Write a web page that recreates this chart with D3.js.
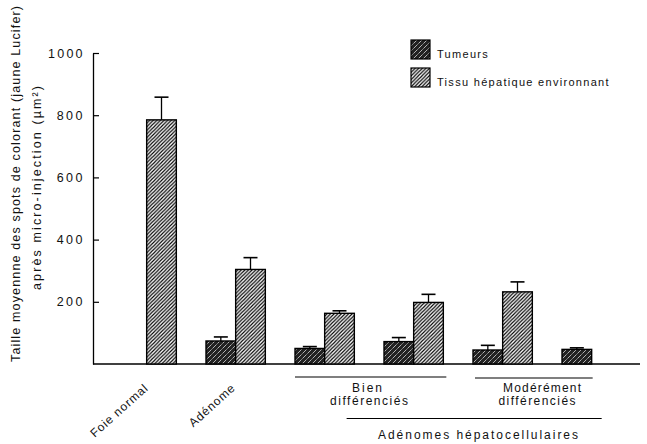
<!DOCTYPE html>
<html><head><meta charset="utf-8">
<script src="https://cdn.jsdelivr.net/npm/d3@7"></script>
<style>
body{margin:0;background:#fff}
svg{display:block}
text{font-family:"Liberation Sans",Arial,Helvetica,sans-serif;fill:#111}
</style>
</head><body>
<svg id="c" width="647" height="444"></svg>
<script>
// ---- data ----
const groups = ["Foie normal","Adénome","Bien 1","Bien 2","Modérément 1","Modérément 2"];
const groupLabels = ["Foie normal","Adénome","","","",""];
const series = ["Tumeurs","Tissu hépatique environnant"];
const tumeurs    = [null, 74, 50, 72, 45, 47];
const tumeursErr = [null, 13,  6, 13, 15,  5];
const tissu      = [785, 304, 163, 198, 232, null];
const tissuErr   = [ 73,  38,   8,  26,  32, null];
const yTicks = [200, 400, 600, 800, 1000];
const subLabels = [["Bien","différenciés"],["Modérément","différenciés"]];
const superLabel = "Adénomes hépatocellulaires";
const yTitle = ["Taille moyennne des spots de colorant (jaune Lucifer)","après micro-injection (µm²)"];

// ---- drawing ----
const svg = d3.select("#c");
const defs = svg.append("defs");
const P = 3.6;
const ph = defs.append("pattern").attr("id","hatch").attr("patternUnits","userSpaceOnUse")
  .attr("width",P).attr("height",P);
ph.append("rect").attr("width",P).attr("height",P).attr("fill","#fff");
ph.append("path").attr("d",`M-1,1 l2,-2 M0,${P} l${P},-${P} M${P-1},${P+1} l2,-2`)
  .attr("stroke","#000").attr("stroke-width",1.15);
const ps = defs.append("pattern").attr("id","stipple").attr("patternUnits","userSpaceOnUse")
  .attr("width",5).attr("height",5);
ps.append("rect").attr("width",5).attr("height",5).attr("fill","#222");
[[0,0],[2,3],[4,1],[1,4],[3,2]].forEach(([a,b],k)=>
  ps.append("rect").attr("x",a).attr("y",b).attr("width",1).attr("height",1)
    .attr("fill","#fff").attr("opacity",k%2?0.4:0.65));

const x0 = d3.scaleBand().domain(groups).range([117, 651]).padding(0);
const x1 = d3.scaleBand().domain([...series, "_gap"]).range([0, x0.bandwidth()]);
const y = d3.scaleLinear().domain([0, 1000]).range([364, 53]);
const bw = x1.bandwidth();

// y axis (ticks pointing inward); labels drawn separately
const ax = svg.append("g").attr("transform","translate(93,0)")
  .call(d3.axisLeft(y).tickValues(yTicks).tickFormat("")
    .tickSizeInner(-6).tickSizeOuter(0));
ax.select(".domain").attr("stroke","#000").attr("stroke-width",1.3);
ax.selectAll(".tick line").attr("stroke","#000").attr("stroke-width",1.2);
svg.append("g").selectAll("text").data(yTicks).join("text")
  .attr("x", 82.5).attr("y", d => y(d)).attr("dy","0.36em")
  .attr("text-anchor","end").attr("font-size",12.5)
  .attr("textLength", d => String(d).length * 8.6).attr("lengthAdjust","spacing")
  .text(d => d3.format("d")(d));

// baseline
svg.append("line").attr("x1",93).attr("x2",640).attr("y1",y(0)).attr("y2",y(0))
  .attr("stroke","#000").attr("stroke-width",1.3);

// y title
svg.append("text").attr("transform",`translate(19.5,${184}) rotate(-90)`)
  .attr("text-anchor","middle").attr("font-size",12.5)
  .attr("textLength",356).attr("lengthAdjust","spacing").text(yTitle[0]);
svg.append("text").attr("transform",`translate(40.5,${188}) rotate(-90)`)
  .attr("text-anchor","middle").attr("font-size",12.5)
  .attr("textLength",204).attr("lengthAdjust","spacing").text(yTitle[1]);

// bars
const data = [
  {key: series[0], vals: tumeurs, errs: tumeursErr, fill: "url(#stipple)"},
  {key: series[1], vals: tissu, errs: tissuErr, fill: "url(#hatch)"}
];
data.forEach(s => {
  groups.forEach((g, i) => {
    const v = s.vals[i];
    if (v == null) return;
    const bx = x0(g) + x1(s.key);
    const cx = bx + bw / 2;
    const e = s.errs[i];
    svg.append("line").attr("x1",cx).attr("x2",cx).attr("y1",y(v)).attr("y2",y(v+e))
      .attr("stroke","#000").attr("stroke-width",1.3);
    svg.append("line").attr("x1",cx-7).attr("x2",cx+7).attr("y1",y(v+e)).attr("y2",y(v+e))
      .attr("stroke","#000").attr("stroke-width",1.6);
    svg.append("rect").attr("x",bx).attr("y",y(v)).attr("width",bw).attr("height",y(0)-y(v))
      .attr("fill",s.fill).attr("stroke","#000").attr("stroke-width",1.4);
  });
});

// group labels (rotated)
groups.forEach((g, i) => {
  if (!groupLabels[i]) return;
  const lx = x0(g) + bw * 1.05 + (i === 1 ? -1 : 1);
  svg.append("text").attr("transform",`translate(${lx},389) rotate(-42)`)
    .attr("text-anchor","end").attr("font-size",12)
    .style("letter-spacing","0.9px").text(groupLabels[i]);
});

// sub-group brackets
const bienL = x0(groups[2]), bienR = x0(groups[3]) + x1(series[1]) + bw + 3;
const modL = x0(groups[4]) + 2, modR = x0(groups[5]) + bw + 1;
svg.append("line").attr("x1",bienL).attr("x2",bienR).attr("y1",377).attr("y2",377)
  .attr("stroke","#000").attr("stroke-width",1.2);
svg.append("line").attr("x1",modL).attr("x2",modR).attr("y1",378).attr("y2",378)
  .attr("stroke","#000").attr("stroke-width",1.2);
const subCx = [[367,369],[542,537]];
const subW = [[30,78],[78,77]];
subLabels.forEach((lab, j) => {
  lab.forEach((t, k) => {
    svg.append("text").attr("x",subCx[j][k]).attr("y",391.5 + k*13.5)
      .attr("text-anchor","middle").attr("font-size",12)
      .attr("textLength",subW[j][k]).attr("lengthAdjust","spacing").text(t);
  });
});
const supL = x0(groups[2]) + x0.step()*0.58, supR = x0(groups[5]) + bw + 10;
svg.append("line").attr("x1",supL).attr("x2",supR).attr("y1",418.5).attr("y2",418.5)
  .attr("stroke","#000").attr("stroke-width",1.2);
svg.append("text").attr("x",478).attr("y",439).attr("text-anchor","middle").attr("font-size",12)
  .attr("textLength",200).attr("lengthAdjust","spacing").text(superLabel);

// legend
const leg = svg.append("g").attr("transform","translate(411,40)");
data.forEach((s, k) => {
  leg.append("rect").attr("x",0).attr("y",k*28).attr("width",19).attr("height",19)
    .attr("fill",s.fill).attr("stroke","#000").attr("stroke-width",1.2);
  leg.append("text").attr("x",26).attr("y",k*28+18).attr("font-size",11)
    .style("letter-spacing","1.3px").text(s.key);
});
</script>
</body></html>
